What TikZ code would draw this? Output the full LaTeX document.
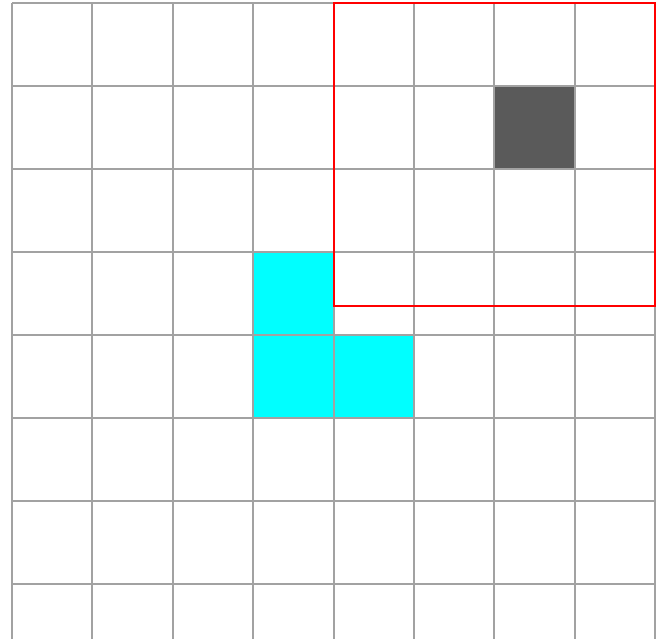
\documentclass[tikz,border=0pt]{standalone}
\definecolor{gridGray}{RGB}{162,162,162}
\definecolor{wallDark}{RGB}{90,90,90}
\definecolor{pieceCyan}{RGB}{0,255,255}

\begin{document}
\begin{tikzpicture}[
  x=40.2pt, y=-41.5pt,
  gridline/.style={draw=gridGray, line width=1pt},
  piece/.style={fill=pieceCyan},
  wall/.style={fill=wallDark},
  view/.style={draw=red, line width=1pt}
]
  \useasboundingbox (-0.1493,-0.0361) rectangle (8.1095,7.6627);
  % occupied cells
  \fill[wall] (6,1) rectangle (7,2);
  \fill[piece] (3,3) rectangle (4,4);
  \fill[piece] (3,4) rectangle (5,5);
  % board grid
  \foreach \c in {0,...,8}
    \draw[gridline] (\c,0) -- (\c,7.6627);
  \foreach \r in {0,...,7}
    \draw[gridline] (0,\r) -- (8,\r);
  % visible window
  \draw[view] (4,0) rectangle (8,3.65);
\end{tikzpicture}
\end{document}
